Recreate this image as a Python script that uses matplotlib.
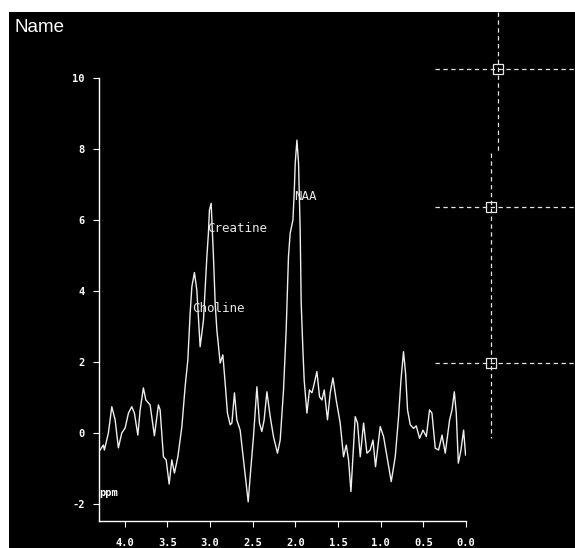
import matplotlib
matplotlib.use("Agg")
import matplotlib.pyplot as plt
from matplotlib.patches import Rectangle

# Spectrum samples: chemical shift (ppm) and signal intensity
ppm = [4.287, 4.249, 4.237, 4.190, 4.150, 4.111, 4.073, 4.033, 3.994, 3.955,
       3.916, 3.885, 3.845, 3.818, 3.780, 3.751, 3.701, 3.651, 3.604, 3.584,
       3.545, 3.513, 3.478, 3.447, 3.416, 3.376, 3.329, 3.291, 3.259, 3.232,
       3.212, 3.182, 3.154, 3.115, 3.076, 3.036, 3.018, 3.006, 2.986, 2.959,
       2.939, 2.919, 2.880, 2.849, 2.822, 2.795, 2.763, 2.743, 2.713, 2.685,
       2.646, 2.607, 2.567, 2.552, 2.529, 2.490, 2.450, 2.420, 2.392, 2.365,
       2.333, 2.294, 2.256, 2.209, 2.177, 2.138, 2.107, 2.080, 2.060, 2.028,
       2.013, 2.001, 1.981, 1.962, 1.943, 1.931, 1.911, 1.896, 1.864, 1.834,
       1.805, 1.787, 1.747, 1.716, 1.688, 1.661, 1.623, 1.591, 1.559, 1.521,
       1.474, 1.435, 1.403, 1.376, 1.348, 1.325, 1.298, 1.271, 1.239, 1.200,
       1.161, 1.122, 1.090, 1.060, 1.005, 0.966, 0.926, 0.876, 0.829, 0.790,
       0.762, 0.732, 0.708, 0.685, 0.653, 0.614, 0.583, 0.544, 0.504, 0.465,
       0.427, 0.399, 0.360, 0.321, 0.281, 0.243, 0.192, 0.164, 0.137, 0.114,
       0.090, 0.059, 0.028, 0.005]
intensity = [-0.48, -0.34, -0.48, 0.00, 0.74, 0.37, -0.42, 0.00, 0.14, 0.56,
             0.74, 0.56, -0.06, 0.65, 1.27, 0.93, 0.79, -0.08, 0.79, 0.65,
             -0.67, -0.76, -1.44, -0.76, -1.13, -0.67, 0.18, 1.30, 2.06, 3.38,
             4.12, 4.52, 4.03, 2.43, 3.18, 4.97, 5.63, 6.28, 6.47, 4.97,
             3.66, 2.90, 1.97, 2.20, 1.41, 0.56, 0.23, 0.28, 1.13, 0.37,
             0.08, -0.76, -1.61, -1.94, -1.23, -0.10, 1.30, 0.28, 0.04, 0.37,
             1.16, 0.46, -0.10, -0.57, -0.20, 1.21, 2.90, 4.97, 5.63, 6.00,
             6.75, 7.60, 8.25, 7.60, 5.72, 3.66, 2.34, 1.49, 0.56, 1.21,
             1.13, 1.30, 1.73, 1.02, 0.93, 1.21, 0.37, 1.13, 1.55, 0.93,
             0.28, -0.67, -0.34, -0.76, -1.65, -0.67, 0.46, 0.28, -0.67, 0.28,
             -0.57, -0.48, -0.20, -0.95, 0.18, -0.10, -0.67, -1.37, -0.67, 0.46,
             1.49, 2.29, 1.68, 0.65, 0.23, 0.13, 0.20, -0.15, 0.08, -0.10,
             0.65, 0.56, -0.43, -0.48, -0.06, -0.57, 0.37, 0.65, 1.16, 0.56,
             -0.85, -0.48, 0.08, -0.62]

# Metabolite annotations
peak_names = ["Choline", "Creatine", "NAA"]
peak_ppm = [3.21, 3.03, 2.01]
peak_level = [3.52, 5.77, 6.65]

x_ticks = [4.0, 3.5, 3.0, 2.5, 2.0, 1.5, 1.0, 0.5, 0.0]
y_ticks = [-2, 0, 2, 4, 6, 8, 10]

W, H = 575, 548
fig = plt.figure(figsize=(W / 100, H / 100), dpi=100, facecolor="white")

# Black display panel behind everything
fig.patches.append(Rectangle((9 / W, 0), 1 - 9 / W, 1 - 12 / H,
                             transform=fig.transFigure, facecolor="black",
                             edgecolor="none", zorder=-10))

ax = fig.add_axes([99 / W, (H - 521) / H, (466 - 99) / W, (521 - 78) / H])
ax.set_zorder(1)
ax.set_facecolor("none")
ax.plot(ppm, intensity, color="#eeeeee", lw=1.0)
ax.set_xlim(4.30, 0.0)
ax.set_ylim(-2.48, 10.0)

for side in ("top", "right"):
    ax.spines[side].set_visible(False)
for side in ("left", "bottom"):
    ax.spines[side].set_color("white")
    ax.spines[side].set_linewidth(1.0)

tick_font = dict(family="DejaVu Sans Mono", weight="bold", size=7.5)
ax.set_xticks(x_ticks)
ax.set_xticklabels([f"{v:.1f}" for v in x_ticks], fontdict=tick_font)
ax.set_yticks(y_ticks)
ax.set_yticklabels([str(v) for v in y_ticks], fontdict=tick_font)
ax.tick_params(axis="x", colors="white", length=4.3, width=0.8, pad=8)
ax.tick_params(axis="y", colors="white", length=4.3, width=0.8, pad=6)

for name, px, lv in zip(peak_names, peak_ppm, peak_level):
    ax.text(px, lv, name, color="#e8e8e8", family="DejaVu Sans Mono",
            fontsize=9, ha="left", va="center")

ax.text(0.0, 0.063, "ppm", transform=ax.transAxes, color="white",
        family="DejaVu Sans Mono", weight="bold", fontsize=7.5,
        ha="left", va="center")

fig.text(15 / W, 1 - 31.7 / H, "Name", color="white", family="Liberation Sans",
         fontsize=13.5, ha="left", va="baseline", zorder=5)

# Cursor crosshairs on the right-hand side (figure pixel coordinates)
ov = fig.add_axes([0, 0, 1, 1])
ov.set_zorder(2)
ov.set_xlim(0, W)
ov.set_ylim(H, 0)
ov.axis("off")
ov.patch.set_alpha(0)
dash = dict(color="#e4e4e4", lw=0.9, linestyle=(0, (3.5, 2.8)))
cursor_rows = [69, 207, 363]
cursor_cols = [498, 491, 491]
for cy, cx in zip(cursor_rows, cursor_cols):
    ov.plot([435, W], [cy, cy], **dash)
    ov.add_patch(Rectangle((cx - 5, cy - 5), 10, 10, fill=False,
                           edgecolor="#e8e8e8", lw=0.9))
ov.plot([498, 498], [12, 153], **dash)
ov.plot([491, 491], [153, 438], **dash)

fig.savefig("out.png", dpi=100, facecolor=fig.get_facecolor())
